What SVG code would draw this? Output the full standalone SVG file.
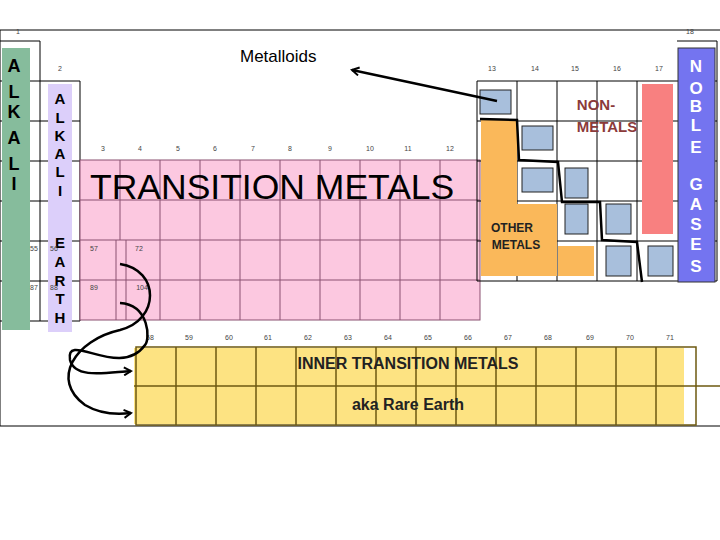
<svg xmlns="http://www.w3.org/2000/svg" width="720" height="540" viewBox="0 0 720 540">
<defs>
<style>
.g{fill:none;stroke:#000;stroke-width:1}
.n{font-family:"Liberation Sans",sans-serif;font-size:7px;fill:#444;text-anchor:middle}
.v{font-family:"Liberation Sans",sans-serif;font-weight:bold;text-anchor:middle}
.c{fill:none;stroke:#000;stroke-width:2.5}
</style>
<marker id="ah" markerWidth="10" markerHeight="10" refX="8" refY="5" orient="auto" markerUnits="userSpaceOnUse"><path d="M1,1 L8,5 L1,9" fill="none" stroke="#000" stroke-width="2"/></marker>
</defs>
<rect width="720" height="540" fill="#fff"/>
<path class="g" d="M0,30 H720 M0,30 V426 H720"/>
<g id="alkali">
<path class="g" d="M0,41 H40 V321 M0,81 H40 M0,121 H40 M0,161 H40 M0,201 H40 M0,241 H40 M0,281 H40 M0,321 H40"/>
<rect x="2" y="48" width="28" height="282" fill="#86bc9c"/>
<text class="v" font-size="18" x="14" y="72">A</text><text class="v" font-size="18" x="14" y="98">L</text><text class="v" font-size="18" x="14" y="118">K</text><text class="v" font-size="18" x="14" y="144">A</text><text class="v" font-size="18" x="14" y="170">L</text><text class="v" font-size="18" x="14" y="190">I</text>
</g>
<g id="alkali-earth">
<path class="g" d="M40,81 H80 V321 M40,121 H80 M40,161 H80 M40,201 H80 M40,241 H80 M40,281 H80 M40,321 H80"/>
<rect x="48" y="84" width="24" height="248" fill="#dccffa"/>
<text class="v" font-size="15" x="60" y="104">A</text><text class="v" font-size="15" x="60" y="123">L</text><text class="v" font-size="15" x="60" y="141">K</text><text class="v" font-size="15" x="60" y="159">A</text><text class="v" font-size="15" x="60" y="177">L</text><text class="v" font-size="15" x="60" y="196">I</text>
<text class="v" font-size="15" x="60" y="248">E</text><text class="v" font-size="15" x="60" y="267">A</text><text class="v" font-size="15" x="60" y="286">R</text><text class="v" font-size="15" x="60" y="304">T</text><text class="v" font-size="15" x="60" y="323">H</text>
</g>
<g id="transition">
<rect x="80" y="160" width="400" height="160" fill="#fcc8e0" stroke="#8a5070"/>
<path fill="none" stroke="#8a5070" d="M120,160 V240 M160,160 V320 M200,160 V320 M240,160 V320 M280,160 V320 M320,160 V320 M360,160 V320 M400,160 V320 M440,160 V320 M116,240 V320 M126,240 V320 M80,200 H480 M80,240 H480 M80,280 H480"/>
<text font-family="Liberation Sans,sans-serif" font-size="35.5" x="90" y="199">TRANSITION METALS</text>
</g>
<g id="p-block">
<path class="g" d="M477,81 H717 M477,121 H717 M477,161 H717 M477,201 H717 M477,241 H717 M477,281 H717 M477,81 V281 M517,81 V281 M557,81 V281 M597,81 V281 M637,81 V281 M677,41 H717 V281"/>
<rect x="481" y="120" width="36" height="156" fill="#fab85a"/>
<rect x="517" y="204" width="40" height="72" fill="#fab85a"/>
<rect x="558" y="246" width="36" height="30" fill="#fab85a"/>
<rect x="642" y="84" width="31" height="150" fill="#f88080"/>
<g fill="#a8bfdc" stroke="#222">
<rect x="480" y="90" width="31" height="24"/><rect x="522" y="126" width="31" height="24"/><rect x="522" y="168" width="31" height="24"/>
<rect x="565" y="168" width="23" height="30"/><rect x="565" y="204" width="23" height="30"/><rect x="606" y="204" width="25" height="30"/><rect x="606" y="246" width="25" height="30"/><rect x="648" y="246" width="25" height="30"/>
</g>
<path class="c" d="M480,119 L517,120 L519,160 L558,162 L562,202 L600,202 L602,240 L637,242 L642,282"/>
<rect x="678" y="48" width="37" height="234" fill="#7474f0" stroke="#333"/>
<g fill="#fff"><text class="v" font-size="17" x="696" y="72">N</text><text class="v" font-size="17" x="696" y="94">O</text><text class="v" font-size="17" x="696" y="112">B</text><text class="v" font-size="17" x="696" y="131">L</text><text class="v" font-size="17" x="696" y="153">E</text><text class="v" font-size="17" x="696" y="190">G</text><text class="v" font-size="17" x="696" y="210">A</text><text class="v" font-size="17" x="696" y="230">S</text><text class="v" font-size="17" x="696" y="250">E</text><text class="v" font-size="17" x="696" y="272">S</text></g>
<text class="v" font-size="15" fill="#8b3a3a" x="596" y="110">NON-</text>
<text class="v" font-size="15" fill="#8b3a3a" x="607" y="132">METALS</text>
<text class="v" font-size="12" fill="#222" x="512" y="232">OTHER</text>
<text class="v" font-size="12" fill="#222" x="516" y="249">METALS</text>
</g>
<g id="inner-transition">
<rect x="134" y="348" width="550" height="76" fill="#fde382"/>
<path fill="none" stroke="#6e5a10" stroke-width="1.5" d="M136,347 H696 V425 H136 Z M134,386 H720 M176,347 V425 M216,347 V425 M256,347 V425 M296,347 V425 M336,347 V425 M376,347 V425 M416,347 V425 M456,347 V425 M496,347 V425 M536,347 V425 M576,347 V425 M616,347 V425 M656,347 V425"/>
<text class="v" font-size="16" fill="#222" x="408" y="369">INNER TRANSITION METALS</text>
<text class="v" font-size="16" fill="#222" x="408" y="410">aka Rare Earth</text>
</g>
<g id="numbers">
<text class="n" x="18" y="34">1</text><text class="n" x="690" y="34">18</text><text class="n" x="60" y="71">2</text>
<text class="n" x="103" y="151">3</text><text class="n" x="140" y="151">4</text><text class="n" x="178" y="151">5</text><text class="n" x="215" y="151">6</text><text class="n" x="253" y="151">7</text><text class="n" x="290" y="151">8</text><text class="n" x="330" y="151">9</text><text class="n" x="370" y="151">10</text><text class="n" x="408" y="151">11</text><text class="n" x="450" y="151">12</text>
<text class="n" x="492" y="71">13</text><text class="n" x="535" y="71">14</text><text class="n" x="575" y="71">15</text><text class="n" x="617" y="71">16</text><text class="n" x="659" y="71">17</text>
<text class="n" x="34" y="251">55</text><text class="n" x="54" y="251">56</text><text class="n" x="94" y="251">57</text><text class="n" x="139" y="251">72</text>
<text class="n" x="34" y="290">87</text><text class="n" x="54" y="290">88</text><text class="n" x="94" y="290">89</text><text class="n" x="142" y="290">104</text>
<text class="n" x="150" y="340">58</text><text class="n" x="189" y="340">59</text><text class="n" x="229" y="340">60</text><text class="n" x="268" y="340">61</text><text class="n" x="308" y="340">62</text><text class="n" x="348" y="340">63</text><text class="n" x="388" y="340">64</text><text class="n" x="428" y="340">65</text><text class="n" x="468" y="340">66</text><text class="n" x="508" y="340">67</text><text class="n" x="548" y="340">68</text><text class="n" x="590" y="340">69</text><text class="n" x="630" y="340">70</text><text class="n" x="670" y="340">71</text>
</g>
<text font-family="Liberation Sans,sans-serif" font-size="17" x="240" y="62">Metalloids</text>
<g id="connectors">
<path class="c" d="M497,101 L352,70" marker-end="url(#ah)"/>
<path class="c" d="M120,264 C160,270 160,320 120,330 C75,340 50,380 85,405 C100,414 115,415 131,413" marker-end="url(#ah)"/>
<path class="c" d="M120,303 C150,305 150,340 145,345 C120,380 65,330 70,360 C75,380 110,372 131,371" marker-end="url(#ah)"/>
</g>
</svg>
